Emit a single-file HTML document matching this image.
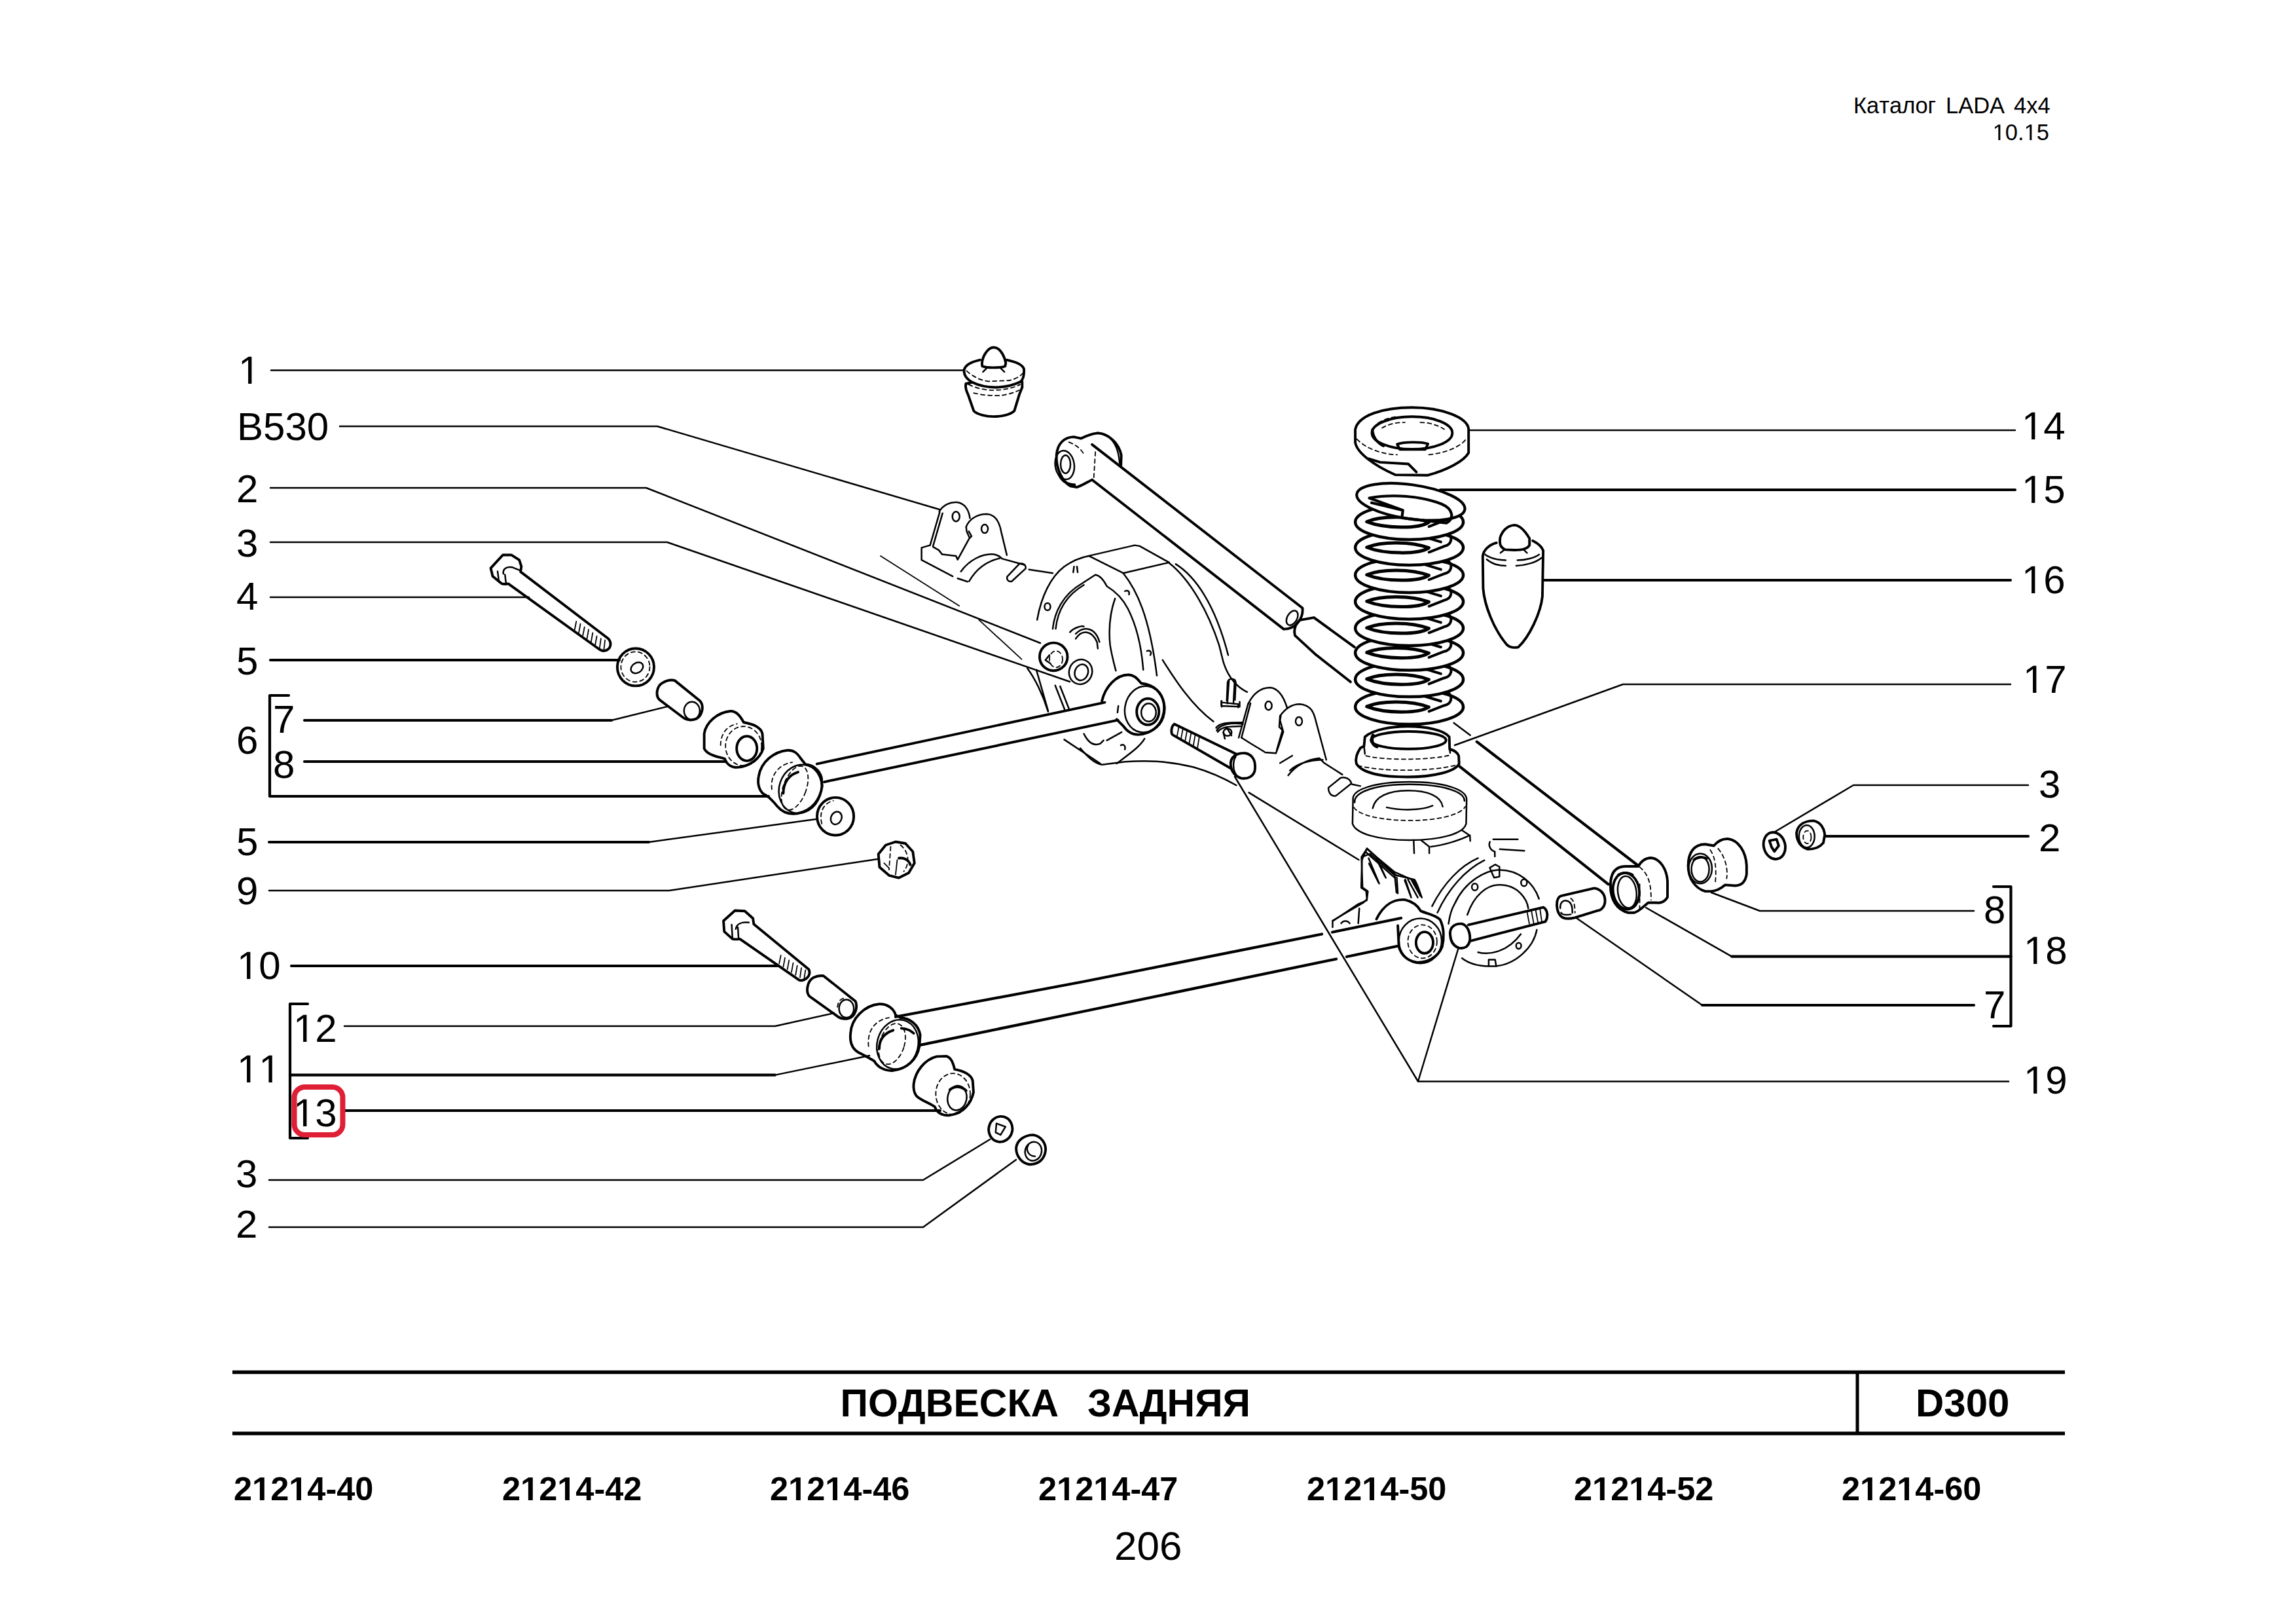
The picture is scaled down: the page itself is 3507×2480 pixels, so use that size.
<!DOCTYPE html>
<html><head><meta charset="utf-8">
<style>
html,body{margin:0;padding:0;background:#fff;width:3507px;height:2480px;overflow:hidden}
svg{position:absolute;left:0;top:0}
text{font-family:"Liberation Sans",sans-serif;fill:#000;font-kerning:none}
.lb{font-size:60px}
.bd{font-weight:bold}
.t{fill:none;stroke:#000;stroke-width:2.5;stroke-linejoin:round;stroke-linecap:round}
.k{fill:none;stroke:#000;stroke-width:4.2;stroke-linejoin:round;stroke-linecap:round}
#drawing *{vector-effect:non-scaling-stroke}
.o{stroke-width:3.9}
.m{stroke-width:2.5}
.h{stroke-width:1.8}
.ds{stroke-width:1.8;stroke-dasharray:6 5}
</style></head>
<body>
<svg width="3507" height="2480" viewBox="0 0 3507 2480">
<!-- header -->
<text x="2831" y="173" font-size="34.5">Каталог</text><text x="2972" y="173" font-size="34.5">LADA</text><text x="3076" y="173" font-size="34.5">4x4</text>
<text x="3130" y="214" font-size="34.5" text-anchor="end">&#x2007;0.&#x2007;5</text>

<!-- labels -->
<g class="lb" id="labels">
<text x="364" y="586">&#x2007;</text>
<text x="362" y="672">B530</text>
<text x="361" y="767">2</text>
<text x="361" y="850">3</text>
<text x="361" y="931">4</text>
<text x="361" y="1030">5</text>
<text x="417" y="1119">7</text>
<text x="361" y="1151">6</text>
<text x="417" y="1188">8</text>
<text x="361" y="1306">5</text>
<text x="361" y="1381">9</text>
<text x="362" y="1495">&#x2007;0</text>
<text x="448" y="1591">&#x2007;2</text>
<text x="362" y="1653">&#x2007;&#x2007;</text>
<text x="448" y="1720">&#x2007;3</text>
<text x="360" y="1813">3</text>
<text x="360" y="1890">2</text>
<text x="3088" y="671">&#x2007;4</text>
<text x="3088" y="768">&#x2007;5</text>
<text x="3088" y="906">&#x2007;6</text>
<text x="3090" y="1058">&#x2007;7</text>
<text x="3114" y="1218">3</text>
<text x="3114" y="1300">2</text>
<text x="3030" y="1410">8</text>
<text x="3091" y="1472">&#x2007;8</text>
<text x="3030" y="1555">7</text>
<text x="3091" y="1670">&#x2007;9</text>
</g>

<!-- leaders -->
<g id="leaders">
<path class="t" d="M414,565.5H1472"/>
<path class="t" d="M519,651H1004L1435,778"/>
<path class="t" d="M413,745H987L1589,982"/>
<path class="t" d="M413,828H1019L1634,1041"/>
<path class="t" d="M413,912H808"/>
<path class="k" d="M413,1008H946"/>
<path class="k" d="M465,1100H934"/><path class="t" d="M934,1100L1019,1079"/>
<path class="k" d="M465,1163H1109"/>
<path class="k" d="M441,1062H412V1216H1174"/>
<path class="k" d="M411,1286H991"/><path class="t" d="M991,1286L1246,1251"/>
<path class="t" d="M411,1360H1022L1340,1312"/>
<path class="k" d="M445,1475H1189"/>
<path class="k" d="M470,1533H443V1738H470"/>
<path class="k" d="M443,1641.6H1184"/><path class="t" d="M1184,1641.6L1328,1612"/>
<path class="t" d="M526,1567H1184L1274,1547"/>
<path class="k" d="M527,1696H1436"/>
<path class="t" d="M411,1802H1410L1512,1740"/>
<path class="t" d="M411,1874H1410L1552,1771"/>

<path class="t" d="M2246,657H3078"/>
<path class="k" d="M2200,748H3078"/>
<path class="k" d="M2359,886H3071"/>
<path class="t" d="M3071,1045H2479L2222,1138"/>
<path class="t" d="M3098,1199H2831L2708,1272"/>
<path class="k" d="M3098,1277H2788"/>
<path class="t" d="M3015,1391H2688L2614,1363"/>
<path class="k" d="M3045,1354H3071.5V1567H3045"/>
<path class="k" d="M3071.5,1460.6H2645"/><path class="t" d="M2645,1460.6L2514,1386"/>
<path class="k" d="M3015,1535H2600"/><path class="t" d="M2600,1535L2408,1402"/>
<path class="t" d="M3068,1651.5H2166L1886,1186M2166,1651.5L2227,1450"/>
</g>

<path class="k" d="M1368,1552.8L1655,1499L2019,1426.5M2035,1423.5L2140,1402M1405.6,1595.9L1655,1544.5L2041,1464.5M2057,1461L2133.5,1445"/>
<path class="k" d="M2255.7,1132.7L2502.3,1322M2229.4,1170.3L2456.6,1350.3"/>
<g id="ones" fill="#000" stroke="none">
<path transform="translate(3043.66,214.00) scale(0.016846,-0.016846)" d="M515,0L515,1237L197,1010L197,1180L530,1409L696,1409L696,0Z"/>
<path transform="translate(3091.61,214.00) scale(0.016846,-0.016846)" d="M515,0L515,1237L197,1010L197,1180L530,1409L696,1409L696,0Z"/>
<path transform="translate(364.00,586.00) scale(0.029297,-0.029297)" d="M515,0L515,1237L197,1010L197,1180L530,1409L696,1409L696,0Z"/>
<path transform="translate(362.00,1495.00) scale(0.029297,-0.029297)" d="M515,0L515,1237L197,1010L197,1180L530,1409L696,1409L696,0Z"/>
<path transform="translate(448.00,1591.00) scale(0.029297,-0.029297)" d="M515,0L515,1237L197,1010L197,1180L530,1409L696,1409L696,0Z"/>
<path transform="translate(362.00,1653.00) scale(0.029297,-0.029297)" d="M515,0L515,1237L197,1010L197,1180L530,1409L696,1409L696,0Z"/>
<path transform="translate(395.36,1653.00) scale(0.029297,-0.029297)" d="M515,0L515,1237L197,1010L197,1180L530,1409L696,1409L696,0Z"/>
<path transform="translate(448.00,1720.00) scale(0.029297,-0.029297)" d="M515,0L515,1237L197,1010L197,1180L530,1409L696,1409L696,0Z"/>
<path transform="translate(3088.00,671.00) scale(0.029297,-0.029297)" d="M515,0L515,1237L197,1010L197,1180L530,1409L696,1409L696,0Z"/>
<path transform="translate(3088.00,768.00) scale(0.029297,-0.029297)" d="M515,0L515,1237L197,1010L197,1180L530,1409L696,1409L696,0Z"/>
<path transform="translate(3088.00,906.00) scale(0.029297,-0.029297)" d="M515,0L515,1237L197,1010L197,1180L530,1409L696,1409L696,0Z"/>
<path transform="translate(3090.00,1058.00) scale(0.029297,-0.029297)" d="M515,0L515,1237L197,1010L197,1180L530,1409L696,1409L696,0Z"/>
<path transform="translate(3091.00,1472.00) scale(0.029297,-0.029297)" d="M515,0L515,1237L197,1010L197,1180L530,1409L696,1409L696,0Z"/>
<path transform="translate(3091.00,1670.00) scale(0.029297,-0.029297)" d="M515,0L515,1237L197,1010L197,1180L530,1409L696,1409L696,0Z"/>
<path transform="translate(385.08,2291.00) scale(0.024658,-0.024658)" d="M478,0L478,1170L140,959L140,1180L493,1409L759,1409L759,0Z"/>
<path transform="translate(441.25,2291.00) scale(0.024658,-0.024658)" d="M478,0L478,1170L140,959L140,1180L493,1409L759,1409L759,0Z"/>
<path transform="translate(795.08,2291.00) scale(0.024658,-0.024658)" d="M478,0L478,1170L140,959L140,1180L493,1409L759,1409L759,0Z"/>
<path transform="translate(851.25,2291.00) scale(0.024658,-0.024658)" d="M478,0L478,1170L140,959L140,1180L493,1409L759,1409L759,0Z"/>
<path transform="translate(1204.08,2291.00) scale(0.024658,-0.024658)" d="M478,0L478,1170L140,959L140,1180L493,1409L759,1409L759,0Z"/>
<path transform="translate(1260.25,2291.00) scale(0.024658,-0.024658)" d="M478,0L478,1170L140,959L140,1180L493,1409L759,1409L759,0Z"/>
<path transform="translate(1614.08,2291.00) scale(0.024658,-0.024658)" d="M478,0L478,1170L140,959L140,1180L493,1409L759,1409L759,0Z"/>
<path transform="translate(1670.25,2291.00) scale(0.024658,-0.024658)" d="M478,0L478,1170L140,959L140,1180L493,1409L759,1409L759,0Z"/>
<path transform="translate(2024.08,2291.00) scale(0.024658,-0.024658)" d="M478,0L478,1170L140,959L140,1180L493,1409L759,1409L759,0Z"/>
<path transform="translate(2080.25,2291.00) scale(0.024658,-0.024658)" d="M478,0L478,1170L140,959L140,1180L493,1409L759,1409L759,0Z"/>
<path transform="translate(2432.08,2291.00) scale(0.024658,-0.024658)" d="M478,0L478,1170L140,959L140,1180L493,1409L759,1409L759,0Z"/>
<path transform="translate(2488.25,2291.00) scale(0.024658,-0.024658)" d="M478,0L478,1170L140,959L140,1180L493,1409L759,1409L759,0Z"/>
<path transform="translate(2841.08,2291.00) scale(0.024658,-0.024658)" d="M478,0L478,1170L140,959L140,1180L493,1409L759,1409L759,0Z"/>
<path transform="translate(2897.25,2291.00) scale(0.024658,-0.024658)" d="M478,0L478,1170L140,959L140,1180L493,1409L759,1409L759,0Z"/>
</g>
<!-- red highlight -->
<rect x="449.5" y="1660" width="74" height="73" rx="16" ry="16" fill="none" stroke="#de1f36" stroke-width="8"/>

<!-- table -->
<g id="table">
<path d="M355,2095.5H3154M355,2189H3154" stroke="#000" stroke-width="5.5" fill="none"/>
<path d="M2837,2095V2189" stroke="#000" stroke-width="5" fill="none"/>
<text class="bd" x="1283.5" y="2163" font-size="59">ПОДВЕСКА</text><text class="bd" x="1661" y="2163" font-size="59">ЗАДНЯЯ</text>
<text class="bd" x="2926" y="2163" font-size="60">D300</text>
<g class="bd" font-size="50.5">
<text x="357" y="2291">2&#x2007;2&#x2007;4-40</text>
<text x="767" y="2291">2&#x2007;2&#x2007;4-42</text>
<text x="1176" y="2291">2&#x2007;2&#x2007;4-46</text>
<text x="1586" y="2291">2&#x2007;2&#x2007;4-47</text>
<text x="1996" y="2291">2&#x2007;2&#x2007;4-50</text>
<text x="2404" y="2291">2&#x2007;2&#x2007;4-52</text>
<text x="2813" y="2291">2&#x2007;2&#x2007;4-60</text>
</g>
<text x="1702" y="2382" font-size="62">206</text>
</g>

<!-- DRAWING -->
<g id="drawing" fill="none" stroke="#000" stroke-linejoin="round" stroke-linecap="round">
<g transform="translate(2350,1320) scale(0.061576)">
<!-- sleeve 7 right -->
<path class="o" d="M560,780L1380,590C1500,600 1650,700 1650,900C1650,1050 1550,1150 1450,1150L900,1320C750,1360 620,1350 550,1280C470,1200 440,1050 460,920C480,830 520,790 560,780Z"/>
<path class="m" d="M540,1090C530,950 600,890 690,900C780,910 830,1000 835,1090L840,1200M560,1200C600,1260 700,1260 800,1240"/>
<path class="ds" d="M800,840C880,900 900,1000 905,1200"/>
</g>
<g transform="translate(1650,1000) scale(0.54437)">
<!-- housing bottom arc -->
<path class="m" d="M0,262C20,285 40,305 61,308L126,300C180,296 240,296 318,315C370,330 410,350 438,366"/>
</g>
<g transform="translate(2250,800) scale(0.12315)">
<!-- bump stop 16 -->
<path class="o" d="M335,175C355,100 420,20 510,15C580,15 640,80 700,180L700,262C680,310 600,325 510,325L400,320C350,300 332,260 332,220Z"/>
<path class="m" d="M340,360L385,325M635,328L670,360"/>
<path class="o" d="M290,235C200,260 130,320 120,400L125,800C140,1000 250,1300 420,1500C450,1530 500,1540 560,1530C700,1400 840,1100 860,900L870,330C850,280 800,240 740,210"/>
<path class="m" d="M150,380C200,420 300,450 405,450M550,450C650,450 770,420 820,380M170,440C230,490 310,520 405,520M535,520C650,515 780,480 850,420"/>
</g>
<g transform="translate(1300,500) scale(0.21777)">
<!-- bump stop 1 -->
<path class="o" d="M918,255C920,200 960,140 1000,140C1045,140 1075,200 1085,250L1080,272C1050,285 950,285 920,272Z"/>
<path class="m" d="M925,312L955,282M1045,282L1075,312"/>
<path class="o" d="M905,228C850,240 800,260 792,300C790,340 815,365 850,385C900,410 960,420 1010,420C1080,420 1140,405 1190,380C1210,360 1215,330 1212,290C1200,260 1150,240 1090,228"/>
<path class="o" d="M850,385L805,395C800,420 805,440 820,470L860,585C880,610 950,625 1000,625C1060,625 1120,610 1145,585L1180,470L1200,420L1200,380"/>
<path class="ds" d="M810,305C850,340 900,370 960,378L1110,372C1160,360 1190,340 1205,320M825,400C880,430 950,440 1000,440C1070,440 1140,425 1185,400M860,460C920,475 1000,480 1050,478C1100,470 1150,455 1180,440"/>
</g>
<g transform="translate(1650,1250) scale(0.32666)">
<!-- lower arm right part -->

<!-- right bushing lower arm -->
<path class="o" d="M1385,470C1420,400 1470,375 1520,380C1560,390 1580,410 1592,432C1620,445 1660,450 1682,472C1702,510 1702,560 1692,600C1672,650 1622,675 1572,672C1532,665 1502,640 1490,600L1485,500"/>
<ellipse class="m" cx="1590" cy="572" rx="100" ry="105"/>
<ellipse class="ds" cx="1600" cy="575" rx="68" ry="78"/>
<ellipse class="o" cx="1610" cy="580" rx="40" ry="50"/>
<!-- bracket -->
<path class="m" d="M1180,508L1180,480L1300,400L1340,382L1345,340L1320,322L1315,180L1340,142L1470,250L1560,290L1590,362M1330,175L1355,165L1470,265M1350,210L1395,300M1385,190L1425,270M1480,275L1485,350M1520,285L1545,360M1550,290L1590,360M1305,420L1300,490M1220,490C1230,475 1250,475 1260,490"/>
<!-- hub flange -->
<path class="m" d="M1645,410C1700,300 1780,220 1860,185M1670,440C1720,330 1800,240 1890,195"/>
<path class="m" d="M1722,492C1728,450 1738,420 1750,400C1800,290 1900,240 1960,240C2050,240 2120,300 2145,375M1785,653C1820,680 1860,690 1908,690M2135,520C2120,600 2040,680 1945,690L1910,690L1910,660L1940,660L1945,690"/>
<path class="m" d="M1810,450C1840,360 1900,310 1960,310C2050,310 2090,380 2095,420M1860,625C1920,640 2000,620 2060,540"/>
<ellipse class="m" cx="1845" cy="320" rx="14" ry="16"/>
<ellipse class="m" cx="2075" cy="300" rx="14" ry="16"/>
<ellipse class="m" cx="2050" cy="595" rx="12" ry="14"/>
<path class="m" d="M1915,230L1940,215L1960,225L1960,272L1935,276Z"/>
<!-- stud 19 right -->
<path class="o" d="M1730,545C1725,505 1755,490 1785,492C1810,500 1825,530 1822,570C1815,600 1795,610 1770,605C1745,595 1732,575 1730,545Z"/>
<path class="o" d="M1815,497L2165,415C2185,425 2190,460 2175,482L1825,572"/>
<path class="h" d="M2090,440L2100,492M2110,434L2120,488M2130,430L2140,484M2150,424L2158,480"/>
</g>
<g transform="translate(2400,1200) scale(0.21777)">
<!-- upper arm right bushing -->
<path class="o" d="M275,700C275,600 320,565 380,565L470,565C490,530 520,505 560,505C620,510 670,580 675,670L675,780C660,810 630,825 600,820L540,820C510,840 480,880 440,890L400,890C320,870 275,800 275,700Z"/>
<ellipse class="o" cx="385" cy="738" rx="92" ry="128" transform="rotate(-8 385 738)"/>
<ellipse class="m" cx="392" cy="745" rx="65" ry="112" transform="rotate(-8 392 745)"/>
<path class="o" d="M330,625C360,605 400,605 430,625"/>
<path class="ds" d="M480,570C540,620 560,680 560,800M480,690L480,860"/>

<!-- sleeve 7 right -->

<!-- bushing 8 right -->
<path class="o" d="M820,560C820,470 860,410 940,410L1000,420C1030,385 1060,370 1100,372C1170,380 1225,460 1230,560L1230,620C1220,680 1190,700 1150,700L1080,695C1050,720 1020,740 980,740L940,740C870,720 820,650 820,560Z"/>
<ellipse class="m" cx="905" cy="580" rx="82" ry="105"/>
<ellipse class="m" cx="905" cy="585" rx="62" ry="88"/>
<path class="o" d="M860,520C880,500 920,495 950,510"/>
<path class="ds" d="M975,450C1010,500 1020,580 1010,680M1030,440C1080,500 1100,580 1090,650"/>
<!-- washer 3 right -->
<ellipse class="o" cx="1425" cy="420" rx="75" ry="95" transform="rotate(-15 1425 420)"/>
<path class="o" d="M1390,385L1440,375L1455,420L1425,460L1405,430Z"/>
<!-- nut 2 right -->
<path class="o" d="M1580,330C1590,270 1640,245 1700,245C1750,255 1775,300 1778,345L1768,400C1740,435 1700,445 1660,445C1610,430 1580,390 1580,330Z"/>
<ellipse class="m" cx="1652" cy="355" rx="55" ry="78"/>
<ellipse class="ds" cx="1655" cy="360" rx="28" ry="45"/>
</g>
<g transform="translate(1850,1000) scale(0.25044)">
<!-- right bracket plates -->
<path class="m" d="M225,300C260,230 310,200 360,200C410,205 440,250 462,320"/>
<path class="m" d="M240,295L185,505M225,300L168,505"/>
<path class="m" d="M185,505L240,540L290,570L330,595L395,600L410,560L440,470L420,400L425,370"/>
<ellipse class="m" cx="350" cy="310" rx="20" ry="26"/>
<path class="m" d="M420,372C450,330 490,300 540,300C600,305 620,340 632,380L702,640"/>
<path class="m" d="M420,372L415,440L435,460L400,580"/>
<ellipse class="m" cx="535" cy="405" rx="20" ry="26"/>
<path class="m" d="M470,735C520,670 580,640 660,630L690,660L800,730M480,705C530,660 600,642 680,640M860,790L910,800M420,660L495,615"/>
<path class="m" d="M715,810L790,750C820,740 850,760 855,785L760,860C735,865 715,845 715,810Z"/>
<!-- pin -->
<path class="m" d="M100,168C100,140 150,140 150,168L145,275M100,168L95,280M62,282L62,310M62,290L165,300L165,320"/>
<path class="m" d="M30,445C50,415 100,412 190,412M40,470C60,440 110,435 185,435"/>
<ellipse class="m" cx="100" cy="472" rx="25" ry="22"/>

<!-- bolt 19 head -->
<path class="o" d="M120,680C110,620 160,595 210,600C255,610 272,650 267,700C262,740 222,760 182,752C150,742 125,715 120,680Z"/>
<path class="m" d="M150,620C130,650 130,710 160,740"/>
<path class="t" d="M230,840L900,1250"/>
<!-- lower pad -->
<path class="m" fill="#fff" d="M865,880C860,820 1000,775 1210,775C1420,775 1555,820 1558,880L1555,1030C1540,1090 1400,1130 1210,1130C1020,1130 880,1090 862,1030Z"/>
<path class="ds" d="M870,930C900,980 1050,1010 1210,1010C1370,1010 1520,980 1550,925"/>
<path class="m" d="M875,900C870,830 1020,790 1210,790C1400,790 1545,830 1545,890"/>
<path class="m" d="M985,935C1000,870 1060,830 1200,828C1320,828 1400,860 1412,925M1070,930C1150,950 1280,950 1350,920"/>
<path class="m" d="M1235,1130L1238,1210M1280,1130L1330,1170L1330,1210M1340,1170C1420,1160 1520,1130 1578,1100L1580,1135M1530,1070L1575,1100"/>
<path class="m" d="M1700,1140C1690,1160 1700,1190 1730,1200L1730,1230M1720,1125L1870,1125M1760,1185L1910,1195"/>
<!-- bracket under axle -->
<path class="m" d="M920,1250L915,1420L945,1440L950,1490L930,1510L740,1621M950,1180L1130,1345L1240,1370C1260,1400 1270,1440 1285,1480M950,1180L920,1250M960,1240L1025,1395M1010,1240L1065,1360M1120,1350L1130,1450M1180,1375L1220,1480M1200,1370L1260,1480M940,1200L1120,1360"/>
<!-- upper arm continues -->
<path class="o" d="M640,0L850,165"/>
<path class="m" d="M1480,415L1580,490"/>
</g>
<g transform="translate(2040,720) scale(0.28941)">
<!-- spring 15 -->
<ellipse class="o" style="stroke-width:4.5" fill="#fff" cx="389" cy="1242" rx="285" ry="92"/>
<path class="o" style="stroke-width:5" d="M165,1240C240,1208 400,1208 492,1243C440,1278 260,1278 165,1240Z"/>
<path class="o" style="stroke-width:4" d="M470,1186L556,1212M587,1162C625,1187 612,1227 572,1235L493,1266"/>
<ellipse class="o" style="stroke-width:4.5" fill="#fff" cx="389" cy="1097" rx="285" ry="92"/>
<path class="o" style="stroke-width:5" d="M165,1095C240,1063 400,1063 492,1098C440,1133 260,1133 165,1095Z"/>
<path class="o" style="stroke-width:4" d="M470,1041L556,1067M587,1017C625,1042 612,1082 572,1090L493,1121"/>
<ellipse class="o" style="stroke-width:4.5" fill="#fff" cx="389" cy="957" rx="285" ry="92"/>
<path class="o" style="stroke-width:5" d="M165,955C240,923 400,923 492,958C440,993 260,993 165,955Z"/>
<path class="o" style="stroke-width:4" d="M470,901L556,927M587,877C625,902 612,942 572,950L493,981"/>
<ellipse class="o" style="stroke-width:4.5" fill="#fff" cx="389" cy="827" rx="285" ry="92"/>
<path class="o" style="stroke-width:5" d="M165,825C240,793 400,793 492,828C440,863 260,863 165,825Z"/>
<path class="o" style="stroke-width:4" d="M470,771L556,797M587,747C625,772 612,812 572,820L493,851"/>
<ellipse class="o" style="stroke-width:4.5" fill="#fff" cx="389" cy="687" rx="285" ry="92"/>
<path class="o" style="stroke-width:5" d="M165,685C240,653 400,653 492,688C440,723 260,723 165,685Z"/>
<path class="o" style="stroke-width:4" d="M470,631L556,657M587,607C625,632 612,672 572,680L493,711"/>
<ellipse class="o" style="stroke-width:4.5" fill="#fff" cx="389" cy="547" rx="285" ry="92"/>
<path class="o" style="stroke-width:5" d="M165,545C240,513 400,513 492,548C440,583 260,583 165,545Z"/>
<path class="o" style="stroke-width:4" d="M470,491L556,517M587,467C625,492 612,532 572,540L493,571"/>
<ellipse class="o" style="stroke-width:4.5" fill="#fff" cx="389" cy="402" rx="285" ry="92"/>
<path class="o" style="stroke-width:5" d="M165,400C240,368 400,368 492,403C440,438 260,438 165,400Z"/>
<path class="o" style="stroke-width:4" d="M470,346L556,372M587,322C625,347 612,387 572,395L493,426"/>
<ellipse class="o" style="stroke-width:4.5" fill="#fff" cx="389" cy="267" rx="285" ry="92"/>
<path class="o" style="stroke-width:5" d="M165,265C240,233 400,233 492,268C440,303 260,303 165,265Z"/>
<path class="o" style="stroke-width:4" d="M470,211L556,237M587,187C625,212 612,252 572,260L493,291"/>
<ellipse class="o" style="stroke-width:4.2" fill="#fff" cx="397" cy="160" rx="288" ry="90" transform="rotate(8 397 160)"/>
<path class="o" style="stroke-width:4.2" d="M178,140C300,118 450,128 560,172C625,200 625,250 585,272L350,245L355,205ZM355,205L190,165"/>

<!-- spring seat 17 -->
<path class="o" fill="#fff" d="M132,1458C110,1490 104,1520 110,1542C140,1592 250,1612 380,1612C520,1612 632,1582 652,1542L650,1500C642,1480 622,1470 602,1465L600,1400C570,1365 480,1345 380,1345C300,1345 200,1360 155,1400L150,1450Z"/>
<path class="m" d="M150,1450L155,1490M602,1465L605,1485"/>
<ellipse class="o" cx="385" cy="1418" rx="198" ry="46"/>
<path class="o" style="stroke-width:5" d="M198,1392C186,1412 190,1440 218,1452"/>
<path class="ds" d="M160,1500C250,1525 500,1525 612,1495M118,1552C250,1585 500,1585 642,1548"/>
</g>
<g transform="translate(2040,600) scale(0.13066)">
<!-- spring seat 14 -->
<path class="o" fill="#fff" d="M230,430C260,260 560,170 893,170C1250,170 1540,290 1555,420L1555,700C1500,800 1300,900 1080,962L700,958C450,850 250,700 230,580Z"/>
<path class="ds" d="M250,540C350,650 550,720 720,722M1090,722C1300,700 1480,620 1530,530"/>
<path class="o" d="M390,770L520,810L850,830L945,925"/>
<ellipse class="o" cx="895" cy="468" rx="470" ry="190"/>
<path class="o" d="M430,430C440,520 480,580 560,620M720,600C800,570 1000,570 1080,595L1050,660L750,660Z"/>
<path class="ds" d="M545,410C600,370 700,345 810,345M990,345C1100,345 1200,380 1270,425M700,280C620,290 550,320 500,350M1040,280C1150,290 1250,330 1300,370"/>
</g>
<g transform="translate(1600,620) scale(0.25044)">
<!-- upper arm bushing -->
<path class="o" d="M55,300C60,230 100,190 160,188L205,198C230,185 260,170 305,165C370,168 435,225 450,300L448,362"/>
<path class="o" d="M55,300C50,380 90,460 140,488L180,495C220,480 245,462 272,450"/>
<path class="m" d="M380,195C420,230 435,280 440,350"/>
<ellipse class="m" cx="105" cy="360" rx="58" ry="88" transform="rotate(-8 105 360)"/>
<ellipse class="m" cx="110" cy="355" rx="30" ry="55"/>
<path class="o" d="M70,420C90,460 120,480 165,480"/>
<path class="ds" d="M292,280L282,445M130,220C180,240 200,260 220,290"/>
<!-- upper arm -->
<path class="o" d="M272,235L1555,1232M272,450L1440,1360M1555,1232C1562,1295 1512,1362 1440,1360"/>
<ellipse class="m" cx="1492" cy="1292" rx="30" ry="48" transform="rotate(30 1492 1292)"/>
<path class="o" d="M1540,1305L1625,1290L1872,1470M1510,1400L1637,1517M1510,1400C1500,1370 1510,1330 1540,1305"/>
</g>
<g transform="translate(1330,760) scale(0.25044)">
<!-- left bracket plates -->
<path class="m" d="M418,85C440,45 485,25 525,28C570,33 598,70 605,125"/>
<path class="m" d="M420,90L362,290M438,95L380,295"/>
<path class="m" d="M362,290L310,305L310,380L500,480M530,492L590,512"/>
<path class="m" d="M380,300L415,320L435,345L520,355L530,378L600,250L615,235L598,205"/>
<ellipse class="m" cx="520" cy="115" rx="22" ry="30"/>
<path class="m" d="M582,178C600,130 650,100 710,100C760,105 785,150 795,205L830,350"/>
<path class="m" d="M582,178L585,205L600,240"/>
<ellipse class="m" cx="695" cy="190" rx="20" ry="26"/>
<path class="m" d="M550,450C600,380 680,340 750,345C770,348 790,360 800,372L940,410"/>
<path class="m" d="M600,510C640,440 700,390 785,370"/>
<path class="m" d="M832,482L905,405C925,395 948,410 945,432L860,510C840,515 828,500 832,482Z"/>
<path class="m" d="M965,438L1110,460"/>
<!-- axle tube left lines -->
<path class="h" d="M60,355L540,660M660,745L920,985"/>
<path class="m" d="M955,1040C1000,1100 1050,1200 1082,1305M1010,1050L1082,1300M1125,1145L1182,1290M1155,1150L1208,1285"/>
<!-- housing -->
<path class="m" d="M1015,745C1040,600 1100,480 1180,420C1230,385 1290,362 1330,355L1610,290L1640,295L1820,395L1540,460L1330,355"/>
<path class="m" d="M1110,800C1120,700 1170,590 1290,522L1370,470C1400,475 1420,500 1440,540C1490,570 1540,620 1570,680C1620,780 1650,890 1662,1050"/>
<path class="m" d="M1540,460C1620,560 1700,720 1745,1085"/>
<path class="m" d="M1128,800C1138,700 1185,600 1300,532"/>
<path class="m" d="M1490,615C1460,700 1450,800 1460,900C1470,960 1480,1000 1495,1055"/>
<path class="m" d="M1860,405C1980,480 2100,650 2180,960M1820,398C1950,500 2060,700 2125,900L2150,1000C2180,1100 2240,1160 2296,1185"/>
<path class="m" d="M1780,990C1850,1100 1950,1260 2090,1365"/>
<path class="m" d="M1240,420L1235,455M1258,420L1262,455M1550,570C1570,560 1580,575 1575,590M1685,935C1705,925 1715,945 1705,960M1525,1510C1545,1500 1555,1515 1550,1535"/>
<ellipse class="m" cx="1078" cy="665" rx="18" ry="22"/>
<path class="m" d="M1215,820C1240,790 1290,780 1300,785M1250,860C1290,800 1350,810 1380,880L1385,920M1250,830C1300,780 1370,790 1395,880"/>
<!-- nut 2 on housing -->
<ellipse class="o" cx="1115" cy="970" rx="85" ry="85"/>
<ellipse class="ds" cx="1130" cy="985" rx="40" ry="50"/>
<path class="m" d="M1090,960L1065,990L1095,1010"/>
<!-- washer 3 on housing -->
<ellipse class="m" cx="1280" cy="1062" rx="70" ry="76" transform="rotate(20 1280 1062)"/>
<ellipse class="m" cx="1285" cy="1065" rx="40" ry="50" transform="rotate(20 1285 1065)"/>
<!-- right arm bushing -->
<path class="o" d="M1410,1240C1430,1150 1500,1080 1570,1080C1610,1080 1630,1110 1650,1132C1720,1140 1785,1180 1792,1280C1792,1380 1720,1440 1630,1445C1590,1445 1560,1420 1540,1392L1500,1352"/>
<ellipse class="m" cx="1668" cy="1290" rx="118" ry="142" transform="rotate(10 1668 1290)"/>
<ellipse class="o" cx="1690" cy="1305" rx="68" ry="80"/>
<ellipse class="m" cx="1695" cy="1310" rx="45" ry="55"/>
<path class="m" d="M1510,1270L1505,1310"/>
<!-- under housing -->
<path class="m" d="M1300,1440C1320,1480 1350,1520 1400,1500L1420,1480M1180,1475L1400,1621M1440,1480L1530,1430M1500,1621C1580,1560 1640,1520 1670,1470"/>
<!-- pin -->
<path class="m" d="M2185,1110L2175,1255M2220,1110L2212,1255M2140,1270L2250,1275M2140,1240L2140,1275M2250,1245L2250,1275"/>
<!-- stud 19 left -->
<path class="o" d="M1852,1381L2234,1565M1843,1447L2200,1653M1852,1381C1830,1395 1830,1440 1843,1447"/>
<path class="h" d="M1880,1392L1868,1455M1905,1404L1893,1468M1930,1416L1918,1482M1955,1428L1943,1496M1980,1440L1968,1510M2005,1452L1993,1524"/>
<!-- right bracket piece -->
<path class="m" d="M2110,1420C2130,1380 2200,1370 2270,1380M2150,1430L2160,1470M2170,1400L2200,1450"/>
</g>
<g transform="translate(1080,1380) scale(0.25044)">
<!-- bolt 10 -->
<path class="o" d="M100,105L170,42L230,45L280,90L285,125L620,400C632,425 622,450 590,465C575,470 565,468 560,465L200,215C185,218 170,218 155,215L105,170Z"/>
<path class="m" d="M150,128L155,212M175,155C180,120 215,110 255,115M188,145L192,210"/>
<path class="h" d="M450,315L440,365M475,330L465,385M500,345L490,400M525,362L515,418M550,378L540,435M575,392L567,450M600,405L592,460"/>
<!-- sleeve 12 -->
<path class="o" d="M710,440L905,595C920,630 905,690 860,700C835,705 815,700 800,690L625,565C600,540 610,470 650,450C670,440 695,438 710,440Z"/>
<ellipse class="m" cx="850" cy="640" rx="45" ry="55"/>
<path class="ds" d="M795,630C800,590 820,575 850,575"/>
<!-- lower arm bushing -->
<path class="o" d="M875,790C880,700 960,620 1050,612C1100,610 1140,640 1150,680L1180,695C1240,700 1290,740 1300,800L1295,870C1280,950 1220,1010 1130,1018C1080,1020 1040,995 1020,960C990,940 950,920 920,905C880,880 870,840 875,790Z"/>
<ellipse class="m" cx="1162" cy="858" rx="125" ry="152" transform="rotate(15 1162 858)"/>
<ellipse class="ds" cx="1128" cy="855" rx="75" ry="128" transform="rotate(18 1128 855)"/>
<path class="ds" d="M985,870C975,780 1020,710 1110,695"/>
<path class="o" d="M1050,885C1050,830 1080,790 1135,772M1185,760C1215,762 1240,770 1260,790"/>
<!-- arm lines -->

<!-- bushing 13 -->
<path class="o" d="M1260,1100C1270,1020 1330,950 1400,932L1460,930C1490,940 1500,970 1510,1010C1560,1020 1610,1040 1620,1080L1625,1150C1610,1220 1560,1280 1480,1290C1430,1295 1400,1270 1390,1240C1360,1215 1300,1200 1275,1170C1262,1150 1258,1120 1260,1100Z"/>
<ellipse class="m" cx="1525" cy="1185" rx="58" ry="75" transform="rotate(10 1525 1185)"/>
<ellipse class="ds" cx="1500" cy="1160" rx="105" ry="125"/>
<path class="o" d="M1480,1135C1510,1110 1550,1110 1580,1140"/>
<!-- washer 3 -->
<ellipse class="o" cx="1790" cy="1375" rx="72" ry="78" transform="rotate(15 1790 1375)"/>
<path class="m" d="M1765,1340L1820,1360L1790,1410L1760,1395Z"/>
<!-- nut 2 -->
<path class="o" d="M1885,1490C1890,1440 1940,1410 1990,1410C2040,1420 2065,1460 2065,1500C2060,1560 2020,1590 1970,1590C1920,1585 1885,1540 1885,1490Z"/>
<ellipse class="m" cx="1990" cy="1510" rx="50" ry="58" transform="rotate(15 1990 1510)"/>
<path class="m" d="M1960,1470C1940,1500 1960,1540 2000,1540"/>
</g>
<g transform="translate(1100,1000) scale(0.25044)">
<!-- arm bushing upper-left -->
<path class="o" d="M235,740C250,650 330,590 410,582C450,580 470,600 490,630L520,668C565,672 605,700 618,748L622,800C612,880 562,950 470,968C420,975 380,960 350,925C325,895 305,872 280,857C240,840 225,790 235,740Z"/>
<ellipse class="m" cx="488" cy="818" rx="128" ry="150" transform="rotate(18 488 818)"/>
<ellipse class="ds" cx="455" cy="812" rx="70" ry="140" transform="rotate(20 455 812)"/>
<path class="ds" d="M315,820C305,740 350,670 440,655"/>
<path class="o" d="M385,845C385,780 420,730 475,715"/>
<!-- arm lower-left -->
<path class="o" d="M590,665L2346,290M635,775L2426,398"/>
<!-- washer 5 right -->
<ellipse class="o" cx="703" cy="985" rx="112" ry="115"/>
<path class="ds" d="M620,1030C600,950 640,900 690,890"/>
<ellipse class="m" cx="708" cy="995" rx="32" ry="40" transform="rotate(25 708 995)"/>
<!-- nut 9 -->
<path class="o" d="M965,1215L1010,1160L1070,1140L1130,1150L1175,1200L1185,1270L1150,1330L1090,1360L1030,1345L972,1295Z"/>
<path class="ds" d="M1040,1170L1030,1310M1100,1160C1150,1200 1160,1270 1120,1320"/>
<path class="o" d="M1090,1240C1120,1235 1150,1250 1160,1280"/>
<path class="h" d="M1080,1250L1070,1340M1000,1270L1030,1300"/>
</g>
<g transform="translate(720,830) scale(0.25044)">
<!-- bolt 4 -->
<path class="o" d="M118,150L192,70L245,70L292,100L305,140L300,172L835,580C855,600 855,640 820,652C800,660 790,650 780,645L225,245C205,248 195,250 185,245L130,200Z"/>
<path class="m" d="M160,170L168,232M195,185C190,150 220,140 250,145L300,165M205,190L212,250"/>
<path class="h" d="M640,475L630,525M665,490L655,545M690,510L680,560M715,525L705,580M740,545L730,600M765,565L755,620M790,580L782,638M815,590L808,650"/>
<!-- washer 5 -->
<ellipse class="o" cx="1002" cy="754" rx="112" ry="114"/>
<ellipse class="ds" cx="1000" cy="752" rx="88" ry="92"/>
<ellipse class="m" cx="1010" cy="758" rx="40" ry="30" transform="rotate(-35 1010 758)"/>
<!-- sleeve 7 -->
<path class="o" d="M1240,835L1395,960C1420,990 1410,1050 1370,1070C1340,1080 1310,1075 1290,1060L1150,955C1120,930 1130,870 1165,850C1190,835 1220,830 1240,835Z"/>
<ellipse class="m" cx="1345" cy="1020" rx="48" ry="55"/>
<!-- bushing 8 -->
<path class="o" d="M1420,1160C1430,1090 1500,1030 1580,1022C1620,1020 1645,1060 1660,1090C1710,1100 1765,1115 1775,1160L1780,1250C1760,1310 1700,1360 1620,1365C1580,1365 1555,1340 1545,1312C1500,1300 1440,1290 1420,1250Z"/>
<ellipse class="o" cx="1680" cy="1250" rx="62" ry="75"/>
<ellipse class="ds" cx="1660" cy="1235" rx="110" ry="120"/>
<path class="ds" d="M1520,1230C1520,1160 1560,1110 1620,1100"/>
</g>
</g>
</svg>
</body></html>
